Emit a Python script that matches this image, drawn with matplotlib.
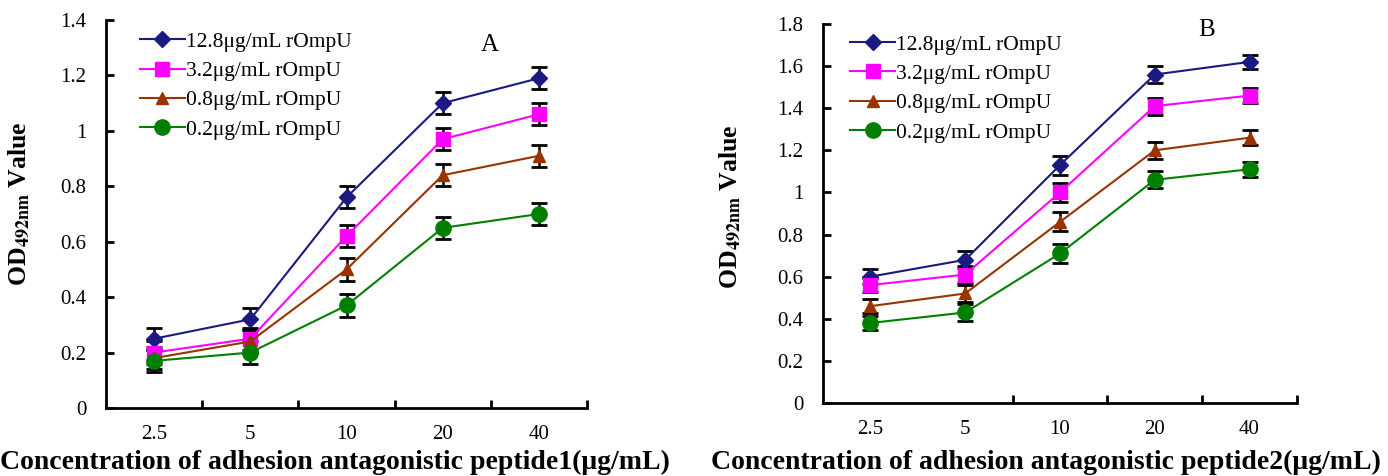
import matplotlib
matplotlib.use("Agg")
import matplotlib.pyplot as plt
import numpy as np

plt.rcParams['font.family'] = ['Liberation Serif', 'DejaVu Serif']
plt.rcParams['mathtext.fontset'] = 'stix'

categories = ["2.5", "5", "10", "20", "40"]
series_labels = ["12.8\u03bcg/mL rOmpU", "3.2\u03bcg/mL rOmpU",
                 "0.8\u03bcg/mL rOmpU", "0.2\u03bcg/mL rOmpU"]

# Panel A values
a_128 = [0.25, 0.32, 0.76, 1.10, 1.19]
a_32 = [0.20, 0.25, 0.62, 0.97, 1.06]
a_08 = [0.18, 0.24, 0.50, 0.84, 0.91]
a_02 = [0.17, 0.20, 0.37, 0.65, 0.70]
a_err = [0.04, 0.04, 0.04, 0.04, 0.04]

# Panel B values
b_128 = [0.60, 0.68, 1.13, 1.56, 1.62]
b_32 = [0.56, 0.61, 1.00, 1.41, 1.46]
b_08 = [0.46, 0.52, 0.86, 1.20, 1.26]
b_02 = [0.38, 0.43, 0.71, 1.06, 1.11]
b_err = [0.035, 0.04, 0.045, 0.04, 0.035]

colors = ["#1a1a80", "#ff00ff", "#993300", "#008000"]
markers = ["D", "s", "^", "o"]
msizes = [8, 10, 9, 11]

fig = plt.figure(figsize=(13.88, 4.76), dpi=100)

def panel(rect, data, err, ymax, letter, letter_pos, xlabel, xlabel_x,
          minor_ticks, leg_anchor, ylab_coords):
    ax = fig.add_axes(rect)
    x = np.arange(len(categories))
    for vals, c, m, ms, lab in zip(data, colors, markers, msizes, series_labels):
        ax.errorbar(x, vals, yerr=err, fmt='none', ecolor='black',
                    elinewidth=1.8, capsize=6, capthick=2, zorder=2)
        ax.plot(x, vals, color=c, marker=m, markersize=ms, linewidth=1.5,
                label=lab, zorder=3)
    ax.set_xlim(-0.5, 4.5)
    ax.set_ylim(0, ymax)
    yt = np.round(np.arange(0, ymax + 0.01, 0.2), 1)
    ax.set_yticks(yt)
    ax.set_yticklabels([("%g" % v) for v in yt])
    ax.set_xticks(x)
    ax.set_xticklabels(categories)
    ax.set_xticks(minor_ticks, minor=True)
    ax.tick_params(axis='x', which='major', length=0, pad=12, labelsize=15)
    ax.tick_params(axis='x', which='minor', direction='in', length=6, width=2)
    ax.tick_params(axis='y', direction='in', length=6, width=2, labelsize=15, pad=14)
    for s in ['top', 'right']:
        ax.spines[s].set_visible(False)
    for s in ['left', 'bottom']:
        ax.spines[s].set_linewidth(2)
    ax.set_ylabel(r"OD$_{\mathbf{492nm}}$ Value", fontsize=18.5, fontweight='bold')
    ax.yaxis.set_label_coords(*ylab_coords)
    fig.text(xlabel_x, 0.0147, xlabel, fontsize=20, fontweight='bold',
             ha='center', va='baseline')
    ax.text(letter_pos[0], letter_pos[1], letter, transform=ax.transAxes,
            fontsize=18, ha='center', va='center')
    ax.legend(loc='upper left', bbox_to_anchor=leg_anchor, frameon=False,
              fontsize=15.5, handlelength=2.1, handletextpad=0.05,
              labelspacing=0.43, borderaxespad=0, borderpad=0)
    return ax

panel([0.0764, 0.1429, 0.3465, 0.815], [a_128, a_32, a_08, a_02], a_err, 1.4, "A",
      (0.798, 0.936),
      "Concentration of adhesion antagonistic peptide1(\u03bcg/mL)", 335 / 1388,
      [0.5, 1.5, 2.5, 3.5, 4.5], (0.07, 0.97), (-0.155, 0.526))
panel([0.593, 0.1534, 0.3414, 0.7962], [b_128, b_32, b_08, b_02], b_err, 1.8, "B",
      (0.81, 0.984),
      "Concentration of adhesion antagonistic peptide2(\u03bcg/mL)", 1046 / 1388,
      [1.5, 2.5, 3.5, 4.5], (0.057, 0.972), (-0.171, 0.517))

fig.savefig("out.png", dpi=100)
